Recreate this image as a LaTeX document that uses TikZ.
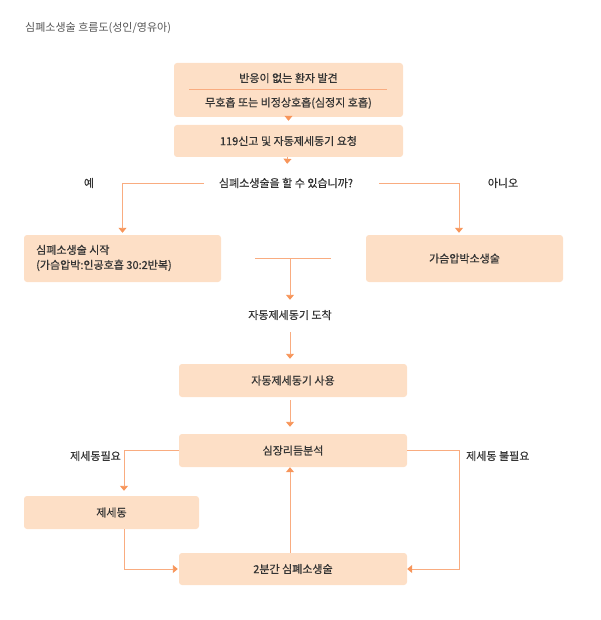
\documentclass[tikz,border=0pt]{standalone}
\usepackage{fontspec}
\setmainfont{Noto Sans CJK KR}[BoldFont=Noto Sans CJK KR,BoldFeatures={FakeBold=0.6}]
\usetikzlibrary{positioning,arrows.meta,calc}
\definecolor{boxfill}{HTML}{FDDFC6}
\definecolor{flowc}{HTML}{F9AC80}
\definecolor{tipc}{HTML}{F7955A}
\definecolor{txt}{HTML}{333333}
\definecolor{ttlc}{HTML}{555555}
\newcommand{\boxfont}{\fontsize{11}{15}\selectfont\bfseries}
\tikzset{
  >={Triangle[length=5pt,width=8pt,color=tipc]},
  stepbox/.style={fill=boxfill,rounded corners=3pt,minimum width=228pt,
    minimum height=33pt,inner sep=0pt,font=\boxfont,text=txt},
  flowline/.style={draw=flowc,line width=0.9pt},
  flow/.style={flowline,->},
  lbl/.style={font=\boxfont,text=txt,inner sep=0pt},
}

\begin{document}
\begin{tikzpicture}[x=1pt,y=-1pt]
  \useasboundingbox (0,0) rectangle (600,620);
  \node[lbl,anchor=west,text=ttlc,font=\fontsize{11}{15}\selectfont] (title) at (25,28) {심폐소생술 흐름도(성인/영유아)};
  % top boxes
  \node[stepbox,minimum width=229pt,minimum height=54pt] (find) at (288.5,90) {};
  \node[lbl] (find1) at (288.5,78) {반응이 없는 환자 발견};
  \node[lbl] (find2) at (288.5,103) {무호흡 또는 비정상호흡(심정지 호흡)};
  \draw[flowc,line width=0.6pt] (189,89) -- (387,89);
  \node[stepbox,minimum width=229pt,minimum height=32pt] (call) at (288.5,141) {119신고 및 자동제세동기 요청};
  \node[lbl] (ask) at (286,183) {심폐소생술을 할 수 있습니까?};
  \draw[flow,shorten >=4pt] (find) -- (call);
  \draw[flow,shorten >=14pt] (call) -- (ask);
  % yes / no
  \node[stepbox,minimum width=197pt,minimum height=47pt] (cpr) at (122.5,258.5) {};
  \node[lbl,anchor=west,align=left] (cprtxt) at (36,258) {심폐소생술 시작\\(가슴압박:인공호흡 30:2반복)};
  \node[stepbox,minimum width=197pt,minimum height=47pt] (hands) at (464.5,258.5) {가슴압박소생술};
  \node[lbl] (yes) at (89,183) {예};
  \node[lbl] (no) at (503,183) {아니오};
  \draw[flow,shorten >=2pt] ([xshift=-15pt]ask.west) -| (cpr);
  \draw[flow,shorten >=2pt] ([xshift=26pt]ask.east) -| ([xshift=-5.5pt]hands.north);
  % merge
  \coordinate (joinL) at (255,258);
  \coordinate (joinR) at (331,258);
  \coordinate (join) at (290,258);
  \node[lbl] (arrive) at (290,315) {자동제세동기 도착};
  \draw[flowline] (joinL) -- (joinR);
  \draw[flow,shorten >=10pt] (join) -- (arrive);
  \node[stepbox] (aed) at (293,380.5) {자동제세동기 사용};
  \node[stepbox] (rhythm) at (293,450.5) {심장리듬분석};
  \node[stepbox,minimum width=175pt] (shock) at (111.5,512.5) {제세동};
  \node[stepbox,minimum height=32pt] (cpr2) at (293,569) {2분간 심폐소생술};
  \draw[flow,shorten <=12pt,shorten >=5pt] (arrive.south) -- (arrive.south |- aed.north);
  \draw[flow,shorten <=3pt,shorten >=7pt] (aed.south -| arrive) -- (rhythm.north -| arrive);
  \draw[flow] (cpr2.north -| arrive) -- (rhythm.south -| arrive);
  % shock branch
  \draw[flow,shorten >=5pt] (rhythm.west) -| ([xshift=12.5pt]shock.north);
  \draw[flow,shorten >=1pt] ([xshift=12.5pt]shock.south) |- (cpr2.west);
  \draw[flow] (rhythm.east) -- ++(52,0) |- (cpr2.east);
  \node[lbl,anchor=east] (need) at (121,456) {제세동필요};
  \node[lbl,anchor=west] (noneed) at (466,456) {제세동 불필요};
\end{tikzpicture}
\end{document}
